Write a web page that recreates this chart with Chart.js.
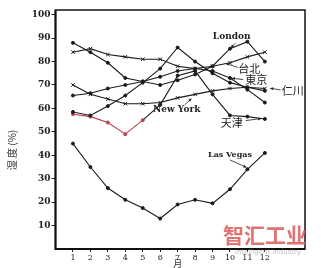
<!DOCTYPE html>
<html lang="zh">
<head>
    <meta charset="UTF-8">
    <title>湿度</title>
    <style>
        body { margin: 0; background: #ffffff; }
        #wrap { position: relative; width: 321px; height: 268px; }
    </style>
</head>
<body>
    <div id="wrap"><canvas id="chart" width="321" height="268"></canvas></div>
    <script src="https://cdn.jsdelivr.net/npm/chart.js"></script>
    <script>
        // data (relative humidity %, by month)
        const months = [1, 2, 3, 4, 5, 6, 7, 8, 9, 10, 11, 12];
        const yTicks = [10, 20, 30, 40, 50, 60, 70, 80, 90, 100];
        const london = [88, 84, 79.5, 73, 71.5, 70, 72, 74.5, 78, 85.5, 88.5, 80];
        const taipei = [84, 85.5, 83, 82, 81, 81, 78, 77, 78, 79.5, 82, 84];
        const tokyo = [65.5, 66.5, 68.5, 70, 71.5, 73.5, 76, 77, 76, 73, 68, 62.5];
        const incheon = [58.5, 57, 61, 65.5, 71, 77, 86, 80, 75, 71, 69, 67.5];
        const newYork = [70, 66, 64, 62, 62, 62.5, 64.5, 66, 67.5, 68.5, 69, 68.5];
        const tianjin = [57.5, 56.5, 54, 49, 55, 61.5, 74, 76, 66, 57, 56.5, 55.5];
        const lasVegas = [45, 35, 26, 21, 17.5, 13, 19, 21, 19.5, 25.5, 34, 41];

        // where each city name sits, in data units [month, %]
        const labels = [
            { text: 'London', at: [10.1, 90.6], to: [10.05, 85.8], from: [10.3, 87.8], font: 'bold 9px "DejaVu Serif"' },
            { text: '台北', at: [11.1, 77.0], to: [9.75, 79.2], from: [10.45, 77.5], font: '11px "Noto Sans CJK TC"' },
            { text: '東京', at: [11.5, 72.0], to: [10.1, 72.9], from: [10.75, 72.3], font: '11px "Noto Sans CJK TC"' },
            { text: '仁川', at: [13.6, 67.4], to: [12.3, 68.6], from: [12.9, 67.9], font: '11px "Noto Sans CJK TC"' },
            { text: 'New York', at: [6.95, 59.3], to: [7.8, 64.2], from: [7.4, 61.5], font: 'bold 9px "DejaVu Serif"' },
            { text: '天津', at: [10.1, 54.0], to: [11.8, 55.7], from: [10.9, 54.8], font: '11px "Noto Sans CJK TC"' },
            { text: 'Las Vegas', at: [10.0, 40.2], to: [10.95, 34.8], from: [10.0, 38.0], font: 'bold 8px "DejaVu Serif"' }
        ];

        function pts(arr) {
            return months.map((m, i) => ({ x: m, y: arr[i] }));
        }

        function line(label, arr, marker) {
            return {
                label: label,
                data: pts(arr),
                borderColor: '#1a1a1a',
                backgroundColor: '#1a1a1a',
                borderWidth: 1.1,
                pointStyle: marker,
                pointRadius: marker === 'crossRot' ? 2.5 : 1.5,
                pointBorderWidth: 1,
                tension: 0
            };
        }

        const tj = line('天津', tianjin, 'circle');
        tj.segment = {
            borderColor: c => c.p0DataIndex < 4 ? '#b8404c' : '#1a1a1a'
        };
        tj.pointBackgroundColor = months.map((m, i) => i <= 4 ? '#b8404c' : '#1a1a1a');
        tj.pointBorderColor = tj.pointBackgroundColor;

        const extras = {
            id: 'extras',
            afterDraw(chart) {
                const ctx = chart.ctx;
                const a = chart.chartArea;
                const xs = chart.scales.x, ys = chart.scales.y;
                ctx.save();
                // frame
                ctx.strokeStyle = '#111';
                ctx.lineWidth = 1.5;
                ctx.strokeRect(a.left, a.top, a.right - a.left, a.bottom - a.top);
                ctx.lineWidth = 2;
                ctx.beginPath();
                ctx.moveTo(a.left, a.top);
                ctx.lineTo(a.left, a.bottom);
                ctx.lineTo(a.right, a.bottom);
                ctx.stroke();

                // city names and pointers
                ctx.fillStyle = '#222';
                ctx.strokeStyle = '#222';
                ctx.lineWidth = 0.8;
                ctx.textAlign = 'center';
                ctx.textBaseline = 'middle';
                labels.forEach(l => {
                    ctx.font = l.font;
                    ctx.fillText(l.text, xs.getPixelForValue(l.at[0]), ys.getPixelForValue(l.at[1]));
                    const x0 = xs.getPixelForValue(l.from[0]), y0 = ys.getPixelForValue(l.from[1]);
                    const x1 = xs.getPixelForValue(l.to[0]), y1 = ys.getPixelForValue(l.to[1]);
                    ctx.beginPath();
                    ctx.moveTo(x0, y0);
                    ctx.lineTo(x1, y1);
                    ctx.stroke();
                    const ang = Math.atan2(y1 - y0, x1 - x0);
                    ctx.beginPath();
                    ctx.moveTo(x1, y1);
                    ctx.lineTo(x1 - 3.5 * Math.cos(ang - 0.45), y1 - 3.5 * Math.sin(ang - 0.45));
                    ctx.lineTo(x1 - 3.5 * Math.cos(ang + 0.45), y1 - 3.5 * Math.sin(ang + 0.45));
                    ctx.closePath();
                    ctx.fill();
                });

                // axis titles
                ctx.font = '10px "Noto Sans CJK SC"';
                ctx.fillStyle = '#333';
                ctx.save();
                ctx.translate(12, 150);
                ctx.rotate(-Math.PI / 2);
                ctx.fillText('湿 度 (%)', 0, 0);
                ctx.restore();
                ctx.font = '9px "Noto Sans CJK SC"';
                ctx.fillText('月', xs.getPixelForValue(7), 264);

                // watermark
                ctx.font = 'bold 21px "Noto Sans CJK SC"';
                ctx.fillStyle = 'rgba(220, 90, 90, 0.85)';
                ctx.fillText('智汇工业', 265, 235);
                ctx.font = '7px "DejaVu Sans"';
                ctx.fillStyle = 'rgba(150, 150, 150, 0.6)';
                ctx.fillText('intelligent industry', 268, 252);
                ctx.restore();
            }
        };

        new Chart(document.getElementById('chart'), {
            type: 'line',
            data: {
                datasets: [
                    line('London', london, 'circle'),
                    line('台北', taipei, 'crossRot'),
                    line('東京', tokyo, 'circle'),
                    line('仁川', incheon, 'circle'),
                    line('New York', newYork, 'crossRot'),
                    tj,
                    line('Las Vegas', lasVegas, 'circle')
                ]
            },
            options: {
                responsive: false,
                animation: false,
                layout: { padding: { top: 10, right: 16, left: 0, bottom: 0 } },
                plugins: {
                    legend: { display: false },
                    tooltip: { enabled: false }
                },
                scales: {
                    x: {
                        type: 'linear',
                        min: 0,
                        max: 14.3,
                        afterBuildTicks: s => { s.ticks = months.map(v => ({ value: v })); },
                        afterFit: s => { s.height = 19; },
                        grid: { drawOnChartArea: false, drawTicks: true, tickLength: 3, color: '#222' },
                        border: { display: false },
                        ticks: {
                            color: '#222',
                            padding: 1,
                            maxRotation: 0,
                            autoSkip: false,
                            font: { family: 'DejaVu Serif', size: 8 }
                        }
                    },
                    y: {
                        min: 0,
                        max: 102,
                        afterBuildTicks: s => { s.ticks = yTicks.map(v => ({ value: v })); },
                        afterFit: s => { s.width = 55.5; },
                        grid: { drawOnChartArea: false, drawTicks: true, tickLength: 4, color: '#222' },
                        border: { display: false },
                        ticks: {
                            color: '#222',
                            padding: 1,
                            font: { family: 'DejaVu Serif', size: 9, weight: 'bold' }
                        }
                    }
                }
            },
            plugins: [extras]
        });
    </script>
</body>
</html>
